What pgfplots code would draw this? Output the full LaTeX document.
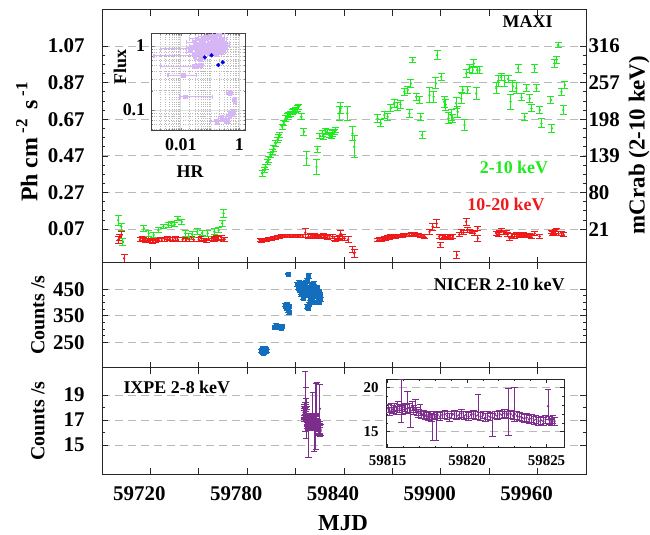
\documentclass[border=0pt]{standalone}
\usepackage{pgfplots}
\pgfplotsset{compat=1.18}
\usepackage{pgfplotstable}
\usepackage{fontspec}
\setmainfont{Liberation Serif}

\definecolor{mgreen}{RGB}{30,235,30}
\definecolor{mred}{RGB}{240,25,25}
\definecolor{nblue}{RGB}{20,110,190}
\definecolor{ipurple}{RGB}{125,45,140}
\definecolor{lav}{RGB}{215,182,245}
\definecolor{dblue}{RGB}{0,0,230}
\definecolor{gridgray}{RGB}{185,185,185}

\newcommand\tfont{\bfseries\fontsize{21}{21}\selectfont}
\newcommand\lfont{\bfseries\fontsize{18}{18}\selectfont}

\pgfplotsset{scaled ticks=false}

\pgfplotstableread{
t f e
59700 0.119 0.027
59702 0.083 0.02
59703 0.0 0.02
59716 0.074 0.015
59719 0.047 0.015
59722 0.038 0.015
59725 0.064 0.015
59728 0.083 0.012
59731 0.092 0.012
59733 0.101 0.012
59735 0.095 0.012
59737 0.129 0.012
59739.5 0.11 0.012
59741.6 0.047 0.015
59743.7 0.03 0.015
59746 0.04 0.015
59749 0.056 0.015
59752 0.05 0.015
59755.5 0.047 0.015
59759.6 0.056 0.015
59762.3 0.064 0.015
59764.4 0.101 0.015
59765.4 0.155 0.02
59789.3 0.374 0.015
59790.7 0.392 0.015
59791.5 0.41 0.015
59792.4 0.438 0.015
59793.5 0.45 0.015
59794.5 0.474 0.015
59795.5 0.49 0.015
59796.5 0.51 0.015
59797.6 0.538 0.015
59798.7 0.556 0.015
59799.5 0.57 0.015
59800.3 0.584 0.015
59801.7 0.629 0.015
59802.7 0.65 0.015
59803.8 0.675 0.015
59804.8 0.685 0.015
59805.8 0.693 0.015
59806.8 0.70 0.015
59807.9 0.71 0.015
59809 0.715 0.015
59810 0.72 0.015
59811 0.73 0.015
59812 0.738 0.015
59813.5 0.684 0.015
59815.2 0.602 0.02
59816.9 0.456 0.04
59823 0.41 0.04
59823.5 0.506 0.015
59825 0.58 0.015
59826.6 0.593 0.015
59827.5 0.575 0.015
59828.7 0.602 0.015
59829.5 0.60 0.015
59830.8 0.584 0.015
59832 0.58 0.015
59833 0.593 0.015
59834 0.60 0.015
59835 0.611 0.015
59837 0.702 0.04
59838 0.73 0.03
59842 0.702 0.04
59845.3 0.593 0.04
59846.3 0.52 0.06
59860.8 0.675 0.02
59862.9 0.648 0.02
59865 0.693 0.02
59867 0.684 0.02
59869 0.73 0.02
59871 0.757 0.02
59873 0.74 0.02
59875 0.75 0.02
59877.4 0.82 0.02
59879.5 0.83 0.02
59880.5 0.702 0.02
59881.5 0.866 0.02
59882.6 0.994 0.015
59884.7 0.793 0.02
59886.7 0.775 0.02
59887.7 0.684 0.02
59888.4 0.584 0.02
59893 0.802 0.04
59895.5 0.793 0.03
59897 0.866 0.03
59897.7 1.02 0.025
59900.2 0.902 0.02
59902 0.766 0.03
59903 0.75 0.03
59904.7 0.675 0.03
59906.4 0.693 0.03
59907.5 0.675 0.02
59909.5 0.757 0.03
59910.5 0.711 0.03
59912.6 0.784 0.03
59913.6 0.83 0.02
59914.7 0.638 0.03
59915.7 0.92 0.02
59916.7 0.83 0.02
59917.7 0.948 0.02
59919.8 0.939 0.02
59920.5 0.975 0.02
59921.9 0.811 0.035
59922.5 0.939 0.02
59924 0.939 0.02
59934.4 0.84 0.03
59935.5 0.88 0.03
59937.5 0.9 0.02
59939.6 0.88 0.03
59941.7 0.89 0.02
59943.3 0.766 0.04
59944.7 0.85 0.03
59946.8 0.84 0.03
59947.9 0.948 0.02
59950 0.79 0.02
59952 0.684 0.02
59953.1 0.84 0.02
59955.2 0.784 0.02
59956.2 0.73 0.02
59958.2 0.948 0.02
59959.3 0.84 0.02
59961.3 0.72 0.02
59962.4 0.648 0.025
59968.3 0.775 0.02
59968.9 0.62 0.02
59970.7 0.975 0.02
59971.7 0.994 0.02
59972.7 1.075 0.015
59974.8 0.82 0.02
59975.9 0.72 0.025
59976.9 0.857 0.02
}\maxig

\pgfplotstableread{
t f e
59700 0.01 0.02
59701 0.025 0.015
59702 0.037 0.02
59703 0.0 0.02
59703.7 -0.09 0.02
59713.6 0.014 0.01
59715 0.02 0.01
59716 0.015 0.01
59717 0.008 0.01
59718 0.01 0.01
59719 0.018 0.01
59720 0.008 0.01
59721.5 0.004 0.01
59723 0.007 0.01
59724 0.016 0.01
59725 0.012 0.01
59727 0.01 0.01
59729 0.015 0.01
59730.5 0.022 0.01
59732 0.017 0.01
59734 0.012 0.01
59735.5 0.02 0.01
59737 0.014 0.01
59740 0.012 0.01
59742 0.01 0.01
59744 0.014 0.01
59745.5 0.022 0.01
59747 0.012 0.01
59750 0.014 0.01
59751.5 0.02 0.01
59753 0.01 0.01
59754.5 0.006 0.01
59756 0.018 0.01
59758 0.02 0.01
59759 0.01 0.01
59760 0.015 0.01
59761 0.024 0.01
59762 0.02 0.01
59764 0.025 0.01
59765 0.012 0.01
59766 0.015 0.01
59788 0.01 0.008
59789 0.006 0.008
59790 0.008 0.008
59791 0.012 0.008
59792 0.01 0.008
59793 0.014 0.008
59794 0.015 0.008
59795 0.018 0.008
59796 0.02 0.008
59797.3 0.024 0.008
59798.6 0.028 0.008
59800 0.027 0.008
59801 0.03 0.008
59802 0.032 0.008
59803 0.034 0.008
59804 0.031 0.008
59805 0.033 0.008
59806 0.034 0.008
59807 0.032 0.008
59808 0.031 0.008
59809 0.033 0.008
59810 0.034 0.008
59811 0.032 0.008
59812 0.033 0.008
59813 0.034 0.008
59814.5 0.031 0.008
59816 0.05 0.025
59818 0.03 0.01
59819.5 0.036 0.01
59820.5 0.03 0.01
59821.5 0.035 0.01
59822.5 0.029 0.01
59823.5 0.033 0.01
59824.5 0.027 0.01
59825.7 0.032 0.01
59827 0.036 0.01
59828 0.03 0.01
59829.5 0.025 0.01
59831 0.028 0.01
59833 0.03 0.01
59834 0.02 0.01
59835 0.01 0.01
59836 0.018 0.01
59837 0.025 0.01
59838 0.045 0.015
59839 0.03 0.01
59840 0.02 0.01
59842.5 0.013 0.015
59845.3 -0.041 0.015
59846.3 -0.063 0.02
59860.8 0.01 0.008
59862 0.015 0.008
59863.5 0.012 0.008
59865 0.02 0.008
59866 0.018 0.008
59867 0.025 0.008
59868 0.022 0.008
59869 0.03 0.008
59870 0.026 0.008
59871 0.03 0.008
59872 0.028 0.008
59873 0.033 0.008
59874 0.03 0.008
59875 0.035 0.008
59876 0.032 0.008
59877 0.04 0.008
59878 0.036 0.008
59879 0.04 0.008
59880.5 0.037 0.008
59882 0.045 0.008
59883 0.039 0.008
59884 0.042 0.008
59885 0.036 0.008
59886 0.04 0.008
59887.5 0.035 0.008
59889 0.033 0.008
59890 0.03 0.01
59893 0.055 0.015
59895 0.083 0.02
59897.5 0.1 0.02
59899 0.03 0.01
59899.7 -0.016 0.015
59901 0.025 0.01
59902 0.033 0.01
59903 0.028 0.01
59904 0.022 0.01
59905 0.03 0.01
59906 0.025 0.01
59907.5 0.028 0.01
59910 -0.072 0.02
59911.5 0.04 0.01
59912.6 0.055 0.015
59914 0.05 0.01
59915.7 0.11 0.02
59916.7 0.065 0.015
59918 0.06 0.01
59919.8 0.055 0.01
59921 0.047 0.01
59922.9 0.075 0.01
59923 0.02 0.015
59934.4 0.047 0.01
59935.5 0.04 0.01
59936.5 0.052 0.01
59937.5 0.065 0.01
59939 0.05 0.01
59940.6 0.055 0.01
59941.5 0.04 0.01
59942.7 0.02 0.01
59944 0.035 0.01
59945.8 0.03 0.01
59947 0.04 0.01
59948 0.038 0.01
59949 0.032 0.01
59950 0.035 0.01
59951 0.04 0.01
59952 0.033 0.01
59953 0.036 0.01
59954 0.038 0.01
59955 0.034 0.01
59956 0.03 0.01
59958.2 0.047 0.01
59961.3 0.03 0.01
59968.6 0.055 0.01
59969.3 0.045 0.01
59970 0.05 0.01
59970.8 0.058 0.01
59971.7 0.065 0.01
59973 0.045 0.01
59974.8 0.047 0.01
59976 0.04 0.01
}\maxir

\pgfplotstableread{
t c e
59788.5 218 6
59789.0 222 6
59789.5 226 6
59790.0 219 6
59790.5 214 6
59791.0 221 6
59791.5 225 6
59792.0 216 6
59789.8 209 6
59790.8 228 6
59797.0 308 5
59797.8 314 5
59798.6 310 5
59799.4 305 5
59800.2 312 5
59801.0 303 5
59801.6 309 5
59803.4 390 6
59803.9 383 6
59804.4 377 6
59804.9 393 6
59805.4 370 6
59805.9 386 6
59806.2 362 8
59805.0 380 6
59805.5 508 3
59811.0 468 6
59811.5 455 6
59812.0 478 6
59812.5 446 6
59813.0 462 6
59813.2 438 6
59813.5 430 6
59814.0 474 6
59814.5 452 6
59814.8 418 6
59815.0 441 6
59815.5 466 6
59816.0 426 6
59816.2 478 6
59816.5 455 6
59817.0 484 6
59817.5 441 6
59818.0 459 6
59818.5 431 6
59818.8 413 6
59819.0 448 6
59819.5 469 6
59820.0 421 6
59820.5 454 6
59821.0 437 6
59821.2 474 6
59821.5 463 6
59822.0 427 6
59822.5 449 6
59823.0 436 6
59823.5 457 6
59824.0 421 6
59824.5 444 6
59825.0 431 6
59825.5 411 6
59817.0 385 6
59817.8 380 6
59818.6 394 6
59820.5 402 6
59822.5 400 6
59824.5 401 6
59818.0 500 10
}\nicer

\pgfplotstableread{
t v ep em
59815.05 17.6 0.45 0.45
59815.15 17.3 0.45 0.45
59815.25 17.7 0.5 0.5
59815.35 17.5 0.45 0.45
59815.45 17.8 0.45 0.45
59815.55 17.4 0.5 0.5
59815.65 17.9 0.5 0.5
59815.75 17.6 0.45 0.45
59815.85 17.9 3.0 1.8
59815.95 17.5 0.5 0.5
59816.05 17.8 0.45 0.45
59816.15 17.6 0.5 0.5
59816.25 18.1 1.5 1.0
59816.35 17.7 0.5 0.5
59816.45 17.2 0.5 1.7
59816.55 17.9 0.5 0.5
59816.65 17.5 0.5 0.5
59816.75 17.7 1.0 0.5
59816.85 17.3 0.5 0.5
59816.95 17.1 0.45 0.45
59817.05 17.3 0.8 0.45
59817.15 16.9 0.45 0.45
59817.25 17.0 0.45 0.45
59817.35 16.8 0.45 0.45
59817.45 16.9 0.45 0.45
59817.55 16.7 0.45 0.45
59817.65 16.8 0.45 0.45
59817.75 16.6 0.45 0.45
59817.85 16.5 0.45 2.5
59817.95 16.8 0.45 0.45
59818.05 16.7 0.45 2.7
59818.15 16.9 0.45 0.45
59818.3 16.7 0.45 0.45
59818.45 16.9 0.45 0.45
59818.6 17.0 0.45 0.45
59818.75 16.8 0.45 0.45
59818.9 16.6 0.45 0.45
59819.05 16.9 0.45 0.45
59819.2 17.0 0.45 0.45
59819.35 16.8 0.45 0.45
59819.5 16.9 0.45 0.45
59819.65 17.1 0.45 0.45
59819.8 16.8 0.45 0.45
59819.95 16.9 0.45 0.45
59820.1 16.7 0.45 0.45
59820.25 16.9 0.45 0.45
59820.4 17.0 0.45 0.45
59820.55 16.8 0.45 0.45
59820.7 16.9 2.3 0.5
59820.85 16.7 0.45 0.45
59821.0 16.9 0.45 0.45
59821.15 16.6 0.45 0.45
59821.3 16.8 0.45 0.45
59821.45 16.7 0.45 0.45
59821.6 16.6 0.45 2.1
59821.75 16.9 0.45 0.45
59821.9 16.8 0.45 0.45
59822.05 17.0 0.45 0.45
59822.2 16.9 0.45 0.45
59822.35 17.1 0.45 0.45
59822.5 16.9 0.45 0.45
59822.6 17.1 2.8 2.5
59822.75 17.0 0.45 0.45
59822.9 16.8 0.45 0.45
59823.0 17.0 3.0 0.8
59823.15 16.8 0.45 0.45
59823.3 16.7 0.45 0.45
59823.45 16.6 0.45 0.45
59823.6 16.5 0.45 0.45
59823.75 16.6 0.45 0.45
59823.9 16.4 0.45 0.45
59824.05 16.5 0.45 0.45
59824.2 16.3 0.45 0.45
59824.35 16.4 0.45 0.45
59824.5 16.2 0.45 0.45
59824.65 16.3 0.45 0.45
59824.8 16.2 0.45 0.45
59824.95 16.4 0.45 0.45
59825.1 17.9 1.9 1.5
59825.2 16.3 0.45 0.45
59825.3 16.1 0.45 0.45
59825.4 16.4 0.45 0.45
59825.5 16.2 0.45 0.45
}\ixpe

\pgfplotstableread{
h f hp hm fe
0.05 1.2 0.04 0.025 0.06
0.07 1.3 0.05 0.03 0.06
0.09 1.1 0.06 0.04 0.05
0.12 1.25 0.08 0.05 0.06
0.15 1.4 0.1 0.06 0.07
0.2 1.2 0.12 0.08 0.06
0.25 1.3 0.12 0.1 0.06
0.1 0.95 0.06 0.04 0.05
0.06 0.9 0.04 0.03 0.05
0.04 1.0 0.03 0.02 0.05
0.08 1.05 0.05 0.03 0.05
0.13 0.85 0.08 0.05 0.05
0.18 0.95 0.1 0.07 0.05
0.22 1.05 0.12 0.08 0.05
0.3 1.1 0.15 0.1 0.05
0.28 0.9 0.12 0.1 0.05
0.035 0.8 0.025 0.02 0.04
0.05 0.75 0.03 0.025 0.04
0.1 0.78 0.06 0.04 0.04
0.16 0.75 0.08 0.06 0.04
0.11 1.45 0.06 0.04 0.07
0.07 1.4 0.04 0.03 0.07
0.2 1.5 0.1 0.08 0.07
0.045 0.62 0.02 0.015 0.04
0.03 1.15 0.02 0.015 0.05
0.025 0.95 0.02 0.01 0.05
0.14 1.15 0.08 0.05 0.05
0.09 1.35 0.05 0.03 0.06
0.24 0.8 0.1 0.08 0.04
0.33 1.0 0.12 0.1 0.05
0.06 1.1 0.04 0.03 0.06
0.16 1.05 0.09 0.06 0.05
0.12 1.0 0.07 0.05 0.05
0.045 0.88 0.03 0.02 0.05
0.08 0.85 0.05 0.03 0.05
0.2 0.88 0.1 0.08 0.05
0.035 1.3 0.02 0.015 0.06
0.03 0.70 0.02 0.0288 0.03
0.034 0.475 0.012 0.032 0.03
0.012 0.35 0.023 0.0084 0.02
0.0137 0.161 0.11 0.0044 0.01
0.02 0.9 0.03 0.018 0.04
0.03 0.48 0.01 0.005 0.04
0.045 0.5 0.015 0.01 0.04
0.47 0.183 0.1 0.1 0.015
0.7 0.143 0.12 0.12 0.015
0.47 0.083 0.15 0.1 0.01
0.6 0.09 0.15 0.1 0.01
0.36 0.07 0.1 0.06 0.008
0.166 0.066 0.3 0.06 0.006
0.25 0.074 0.1 0.05 0.008
}\hrflux

\pgfplotstableread{
h f
0.066 0.666
0.112 0.716
0.19 0.505
0.27 0.556
}\hrblue

\pgfplotsset{
  panel/.style={
    scale only axis, width=484bp, anchor=south west,
    xmin=59690, xmax=59990,
    xtick={59720,59750,...,59960}, minor x tick num=5,
    xtick pos=both, ytick pos=both, yticklabel pos=left,
    tick align=inside, major tick length=6bp, minor tick length=3bp,
    every tick/.style={line width=0.8bp, black!85},
    axis line style={line width=1bp, black!85},
    ymajorgrids, grid style={gridgray, line width=0.9bp, dash pattern=on 8bp off 5bp},
    yticklabel style={font=\tfont, xshift=-14bp},
    xticklabel style={font=\tfont, yshift=-9bp, xshift=-11bp},
    clip=true,
  },
  eb/.style={error bars/.cd, y dir=both, y explicit,
    error bar style={line width=1bp},
    error mark options={rotate=90, mark size=#1, line width=1bp}},
}

\begin{document}
\begin{tikzpicture}
\path[use as bounding box] (0,0) rectangle (650bp,535bp);

% ---------------- MAXI panel ----------------
\begin{axis}[panel, at={(102bp,272bp)}, height=253bp,
  ymin=-0.115, ymax=1.267,
  ytick={0.07,0.27,0.47,0.67,0.87,1.07},
  yticklabels={0.07,0.27,0.47,0.67,0.87,1.07},
  minor y tick num=3, xticklabels={}]
\addplot[mred, only marks, mark=*, mark size=1bp, eb=3.5bp]
  table[x=t, y=f, y error=e] {\maxir};
\addplot[mgreen, only marks, mark=*, mark size=1bp, eb=3.5bp]
  table[x=t, y=f, y error=e] {\maxig};
\end{axis}
\begin{axis}[scale only axis, width=484bp, height=253bp, anchor=south west,
  at={(102bp,272bp)}, xmin=59690, xmax=59990, ymin=-0.115, ymax=1.267,
  axis x line=none, axis y line*=right, axis line style={draw=none},
  ytick={0.07,0.27,0.47,0.67,0.87,1.07},
  yticklabels={21,80,139,198,257,316},
  major tick length=0pt, minor tick num=0,
  yticklabel style={font=\tfont, xshift=-1bp}]
\addplot[draw=none] coordinates {(59700,0.5)};
\end{axis}

% ---------------- HR inset ----------------
\begin{axis}[scale only axis, width=94bp, height=97.4bp, anchor=south west,
  at={(151.7bp,404.3bp)},
  xmode=log, ymode=log, xmin=0.001, xmax=1.65, ymin=0.0475, ymax=1.58,
  axis background/.style={fill=white},
  xtick={0.01,1}, xticklabels={0.01,1},
  ytick={0.1,1}, yticklabels={0.1,1},
  minor xtick={0.002,0.003,0.004,0.005,0.006,0.007,0.008,0.009,0.02,0.03,0.04,0.05,0.06,0.07,0.08,0.09,0.1,0.2,0.3,0.4,0.5,0.6,0.7,0.8,0.9},
  minor ytick={0.05,0.06,0.07,0.08,0.09,0.2,0.3,0.4,0.5,0.6,0.7,0.8,0.9},
  grid=both, major grid style={gray!25, line width=0.9bp},
  minor grid style={gray!55, dotted, line width=0.5bp},
  tick align=inside, major tick length=3bp, minor tick length=1.5bp,
  axis line style={line width=1.3bp, black!75},
  xticklabel style={font=\lfont, yshift=-4bp},
  yticklabel style={font=\lfont, xshift=-3bp},
  clip=true]
\addplot[lav, only marks, mark=square*, mark size=1.8bp,
  error bars/.cd, x dir=both, x explicit, y dir=both, y explicit,
  error bar style={line width=1.1bp},
  error mark options={rotate=90, mark size=2.2bp, line width=1.1bp}]
  table[x=h, y=f, x error plus=hp, x error minus=hm, y error=fe] {\hrflux};
\addplot[dblue, only marks, mark=*, mark size=1.9bp] table[x=h, y=f] {\hrblue};
\end{axis}
\node[rotate=90, font=\lfont] at (120bp,468bp) {Flux};
\node[font=\lfont] at (190bp,363bp) {HR};

% ---------------- NICER panel ----------------
\begin{axis}[panel, at={(102bp,167bp)}, height=105bp,
  ymin=153, ymax=549,
  ytick={250,350,450}, yticklabels={250,350,450},
  minor y tick num=3, xticklabels={}]
\addplot[nblue, only marks, mark=square*, mark size=2bp, eb=3bp]
  table[x=t, y=c, y error=e] {\nicer};
\end{axis}

% ---------------- IXPE panel ----------------
\begin{axis}[panel, at={(102bp,61bp)}, height=106bp,
  ymin=12.68, ymax=21.16,
  ytick={15,17,19}, yticklabels={15,17,19},
  minor y tick num=1,
  xticklabels={59720,,59780,,59840,,59900,,59960}]
\addplot[ipurple, only marks, mark=*, mark size=1bp,
  error bars/.cd, y dir=both, y explicit,
  error bar style={line width=1bp},
  error mark options={rotate=90, mark size=3bp, line width=1bp}]
  table[x=t, y=v, y error plus=ep, y error minus=em] {\ixpe};
\end{axis}

% ---------------- IXPE inset ----------------
\begin{axis}[scale only axis, width=178bp, height=68.7bp, anchor=south west,
  at={(386bp,87.3bp)},
  xmin=59814.9, xmax=59826.1, ymin=13.18, ymax=20.99,
  axis background/.style={fill=white},
  xtick={59815,59820,59825}, xticklabels={59815,59820,59825},
  ytick={15,20}, yticklabels={15,20},
  minor x tick num=4, minor y tick num=4,
  tick align=inside, major tick length=4bp, minor tick length=2bp,
  every tick/.style={line width=0.7bp, black!85},
  axis line style={line width=1bp, black!85},
  ymajorgrids, grid style={gridgray, line width=0.9bp, dash pattern=on 8bp off 5bp},
  xticklabel style={font=\bfseries\fontsize{15}{15}\selectfont, yshift=-4bp},
  yticklabel style={font=\bfseries\fontsize{15}{15}\selectfont, xshift=-4bp},
  clip=true]
\addplot[ipurple, only marks, mark=*, mark size=1bp,
  error bars/.cd, y dir=both, y explicit,
  error bar style={line width=1bp},
  error mark options={rotate=90, mark size=3.3bp, line width=1bp}]
  table[x=t, y=v, y error plus=ep, y error minus=em] {\ixpe};
\end{axis}

% ---------------- labels ----------------
\node[font=\lfont, anchor=east] at (556bp,513bp) {MAXI};
\node[font=\lfont, text=mgreen] at (514bp,368bp) {2-10 keV};
\node[font=\lfont, text=mred] at (506bp,331bp) {10-20 keV};
\node[font=\lfont, anchor=east] at (568bp,251bp) {NICER 2-10 keV};
\node[font=\lfont, anchor=west] at (120bp,148bp) {IXPE 2-8 keV};

\node[rotate=90, font=\bfseries\fontsize{24}{24}\selectfont] at (27bp,393bp)
  {Ph cm\,\raisebox{10bp}{\fontsize{17}{17}\selectfont -2}\, s\,\raisebox{10bp}{\fontsize{17}{17}\selectfont -1}};
\node[rotate=90, font=\bfseries\fontsize{23}{23}\selectfont] at (639bp,390bp) {mCrab (2-10 keV)};
\node[rotate=90, font=\bfseries\fontsize{20}{20}\selectfont] at (38bp,220bp) {Counts /s};
\node[rotate=90, font=\bfseries\fontsize{20}{20}\selectfont] at (38bp,114bp) {Counts /s};
\node[font=\bfseries\fontsize{23}{23}\selectfont] at (343bp,12bp) {MJD};
\end{tikzpicture}
\end{document}
